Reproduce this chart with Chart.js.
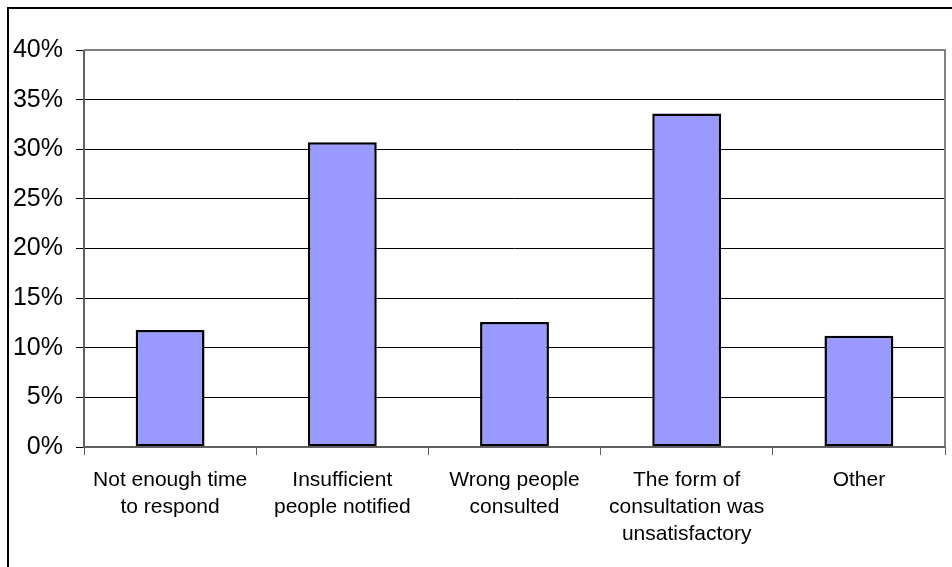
<!DOCTYPE html>
<html>
<head>
<meta charset="utf-8">
<script src="https://cdn.jsdelivr.net/npm/chart.js@4/dist/chart.umd.min.js"></script>
<style>
  html, body { margin: 0; padding: 0; background: #fff; }
  #wrap { width: 952px; height: 567px; position: relative; }
</style>
</head>
<body>
<div id="wrap"><canvas id="c" width="952" height="567"></canvas></div>
<script>
// Reasons given for dissatisfaction with the consultation (share of responses, %)
const categories = [
  ["Not enough time", "to respond"],
  ["Insufficient", "people notified"],
  ["Wrong people", "consulted"],
  ["The form of", "consultation was", "unsatisfactory"],
  ["Other"]
];
const shares = [11.8, 30.7, 12.6, 33.6, 11.2];
const yTicks = [0, 5, 10, 15, 20, 25, 30, 35, 40];

const FONT = "'Liberation Sans', Arial, Helvetica, sans-serif";

// Outer frame of the chart object and grey border round the plot area
const framePlugin = {
  id: 'frame',
  beforeDraw(chart) {
    const ctx = chart.ctx;
    ctx.save();
    ctx.fillStyle = '#ffffff';
    ctx.fillRect(0, 0, chart.width, chart.height);
    ctx.strokeStyle = '#000000';
    ctx.lineWidth = 2;
    ctx.beginPath();
    ctx.moveTo(8, chart.height + 2);
    ctx.lineTo(8, 8);
    ctx.lineTo(chart.width + 2, 8);
    ctx.stroke();
    ctx.restore();
  },
  afterDatasetsDraw(chart) {
    const a = chart.chartArea;
    const ctx = chart.ctx;
    ctx.save();
    ctx.strokeStyle = '#808080';
    ctx.lineWidth = 2;
    ctx.beginPath();
    ctx.moveTo(a.left, a.top);
    ctx.lineTo(a.right, a.top);
    ctx.lineTo(a.right, a.bottom);
    ctx.stroke();
    ctx.strokeStyle = '#606060';
    ctx.beginPath();
    ctx.moveTo(a.left, a.top);
    ctx.lineTo(a.left, a.bottom);
    ctx.lineTo(a.right, a.bottom);
    ctx.stroke();
    ctx.restore();
  }
};

new Chart(document.getElementById('c'), {
  type: 'bar',
  data: {
    labels: categories,
    datasets: [{
      data: shares,
      backgroundColor: '#9999FF',
      borderColor: '#000000',
      borderWidth: 2.5,
      borderSkipped: false,
      barPercentage: 0.4,
      categoryPercentage: 1.0
    }]
  },
  options: {
    responsive: false,
    animation: false,
    devicePixelRatio: 1,
    layout: { padding: { top: 50, right: 7, left: 0, bottom: 0 } },
    plugins: {
      legend: { display: false },
      tooltip: { enabled: false }
    },
    scales: {
      x: {
        offset: true,
        grid: {
          offset: true,
          drawOnChartArea: false,
          drawTicks: true,
          tickLength: 8,
          color: '#606060',
          lineWidth: 1
        },
        border: { display: false },
        ticks: {
          color: '#000000',
          font: { family: FONT, size: 21, lineHeight: 1.28 },
          padding: 12,
          maxRotation: 0,
          autoSkip: false
        },
        afterFit(scale) { scale.height = 120; }
      },
      y: {
        min: 0,
        max: 40,
        afterBuildTicks(scale) {
          scale.ticks = yTicks.map(v => ({ value: v }));
        },
        grid: {
          color: '#000000',
          lineWidth: 1,
          drawTicks: true,
          tickLength: 8
        },
        border: { display: false },
        ticks: {
          color: '#000000',
          font: { family: FONT, size: 25 },
          padding: 13,
          callback: v => v + '%'
        },
        afterFit(scale) { scale.width = 84; }
      }
    }
  },
  plugins: [framePlugin]
});
</script>
</body>
</html>
